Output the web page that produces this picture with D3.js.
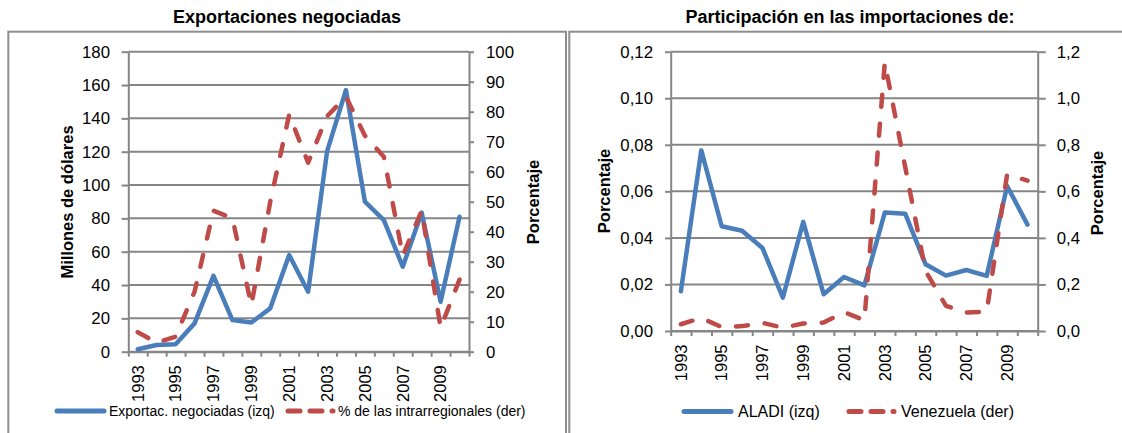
<!DOCTYPE html>
<html>
<head>
<meta charset="utf-8">
<script src="https://cdn.jsdelivr.net/npm/d3@7"></script>
<style>
  body { margin: 0; background: #fff; }
  svg { display: block; font-family: "Liberation Sans", Arial, sans-serif; }
</style>
</head>
<body>
<div id="chart"></div>
<script>
// datos
const years = ["1993","1994","1995","1996","1997","1998","1999","2000","2001",
               "2002","2003","2004","2005","2006","2007","2008","2009","2010"];
const yearLabels = ["1993","1995","1997","1999","2001","2003","2005","2007","2009"];

// panel izquierdo
const exportNeg = [1.5, 4, 4.5, 17, 45.5, 19, 17.5, 26, 58, 36, 120, 157, 90, 79, 51, 83.5, 30, 81];
const pctIntra  = [6.5, 3, 5, 20, 47, 44.5, 15.5, 50, 79, 63, 78.5, 85, 72, 65, 32, 47, 8, 24];
const ticksMill = [0, 20, 40, 60, 80, 100, 120, 140, 160, 180];
const ticksPct  = [0, 10, 20, 30, 40, 50, 60, 70, 80, 90, 100];

// panel derecho
const aladi     = [0.0171, 0.0776, 0.045, 0.0431, 0.0357, 0.0143, 0.0469, 0.0158, 0.0232,
                   0.0196, 0.0509, 0.0504, 0.0287, 0.0238, 0.0262, 0.0237, 0.0623, 0.0457];
const venezuela = [0.029, 0.056, 0.017, 0.021, 0.035, 0.014, 0.032, 0.036, 0.081,
                   0.046, 1.153, 0.705, 0.258, 0.108, 0.079, 0.084, 0.673, 0.646];
const ticksAladi = [0, 0.02, 0.04, 0.06, 0.08, 0.10, 0.12];
const ticksVen   = [0, 0.2, 0.4, 0.6, 0.8, 1.0, 1.2];

const W = 1122, H = 433;
const BLUE = "#4a7ebb", RED = "#be4b48", GRID = "#868686";

const svg = d3.select("#chart").append("svg")
    .attr("width", W)
    .attr("height", H);

const es = d3.formatLocale({decimal: ",", thousands: ".", grouping: [3], currency: ["", ""]});

function panel(c) {
  const g = svg.append("g");

  // marco
  g.append("rect")
      .attr("x", c.box[0]).attr("y", 31.7)
      .attr("width", c.box[1] - c.box[0]).attr("height", 450)
      .attr("fill", "none").attr("stroke", "#8e8e8e").attr("stroke-width", 2);

  g.append("text")
      .attr("x", c.titleX).attr("y", 23.3)
      .attr("text-anchor", "middle")
      .style("font-weight", "bold").style("font-size", "18px")
      .text(c.title);

  const x = d3.scaleBand().domain(years).range([c.left, c.right]);
  const xi = d3.scaleLinear().domain([0, years.length]).range([c.left, c.right]);
  const yL = d3.scaleLinear().domain(c.domL).range([c.bottom, c.top]);
  const yR = d3.scaleLinear().domain(c.domR).range([c.bottom, c.top]);

  // líneas de división
  g.append("g").selectAll("line")
    .data(c.ticksL)
    .join("line")
      .attr("x1", c.left).attr("x2", c.right)
      .attr("y1", d => yL(d)).attr("y2", d => yL(d))
      .attr("stroke", GRID).attr("stroke-width", 2);

  // eje izquierdo
  const axL = g.append("g")
      .attr("transform", `translate(${c.left},0)`)
      .call(d3.axisLeft(yL).tickValues(c.ticksL).tickSizeInner(c.tickL).tickSizeOuter(0)
              .tickPadding(c.padL).tickFormat(c.fmtL));
  // eje derecho
  const axR = g.append("g")
      .attr("transform", `translate(${c.right},0)`)
      .call(d3.axisRight(yR).tickValues(c.ticksR).tickSizeInner(c.tickR).tickSizeOuter(0)
              .tickPadding(c.padR).tickFormat(c.fmtR));
  // eje x: marcas entre categorías
  const axX = g.append("g")
      .attr("transform", `translate(0,${c.bottom})`)
      .call(d3.axisBottom(xi).tickValues(d3.range(years.length + 1)).tickSizeInner(5)
              .tickSizeOuter(0).tickFormat(""));

  [axL, axR, axX].forEach(a => {
    a.selectAll("path, line").attr("stroke", GRID).attr("stroke-width", 2);
    a.selectAll("text").attr("fill", "#000").style("font-size", "16.8px")
        .style("font-family", "'Liberation Sans', Arial, sans-serif");
  });

  // etiquetas de años
  g.append("g").selectAll("text")
    .data(yearLabels)
    .join("text")
      .attr("transform", d => `translate(${x(d) + x.bandwidth() / 2},${c.bottom + 13.5}) rotate(-90)`)
      .attr("text-anchor", "end")
      .attr("dy", "0.35em")
      .style("font-size", "16.5px")
      .text(d => d);

  // títulos de ejes
  c.axisTitles.forEach(t => {
    g.append("text")
        .attr("transform", `translate(${t.x},${t.y}) rotate(-90)`)
        .attr("text-anchor", "middle")
        .style("font-weight", "bold").style("font-size", "16.5px")
        .text(t.text);
  });

  const cx = d => x(d) + x.bandwidth() / 2;
  const lineL = d3.line().x((d, i) => cx(years[i])).y(d => yL(d));
  const lineR = d3.line().x((d, i) => cx(years[i])).y(d => yR(d));

  g.append("path")
      .attr("d", lineL(c.serL))
      .attr("fill", "none").attr("stroke", BLUE).attr("stroke-width", 4.5)
      .attr("stroke-linejoin", "round").attr("stroke-linecap", "round");
  g.append("path")
      .attr("d", lineR(c.serR))
      .attr("fill", "none").attr("stroke", RED).attr("stroke-width", 4.5)
      .attr("stroke-dasharray", "12,17")
      .attr("stroke-linejoin", "round").attr("stroke-linecap", "round");

  // leyenda
  const lg = g.append("g");
  c.legend.forEach((it, i) => {
    lg.append("line")
        .attr("x1", it.x0).attr("x2", it.x1)
        .attr("y1", c.legY).attr("y2", c.legY)
        .attr("stroke", i === 0 ? BLUE : RED).attr("stroke-width", 5)
        .attr("stroke-linecap", "round")
        .attr("stroke-dasharray", i === 0 ? null : "12,10");
    lg.append("text")
        .attr("x", it.tx).attr("y", c.legY)
        .attr("dy", "0.35em")
        .style("font-size", c.legFont)
        .text(it.text);
  });
}

panel({
  box: [8.3, 566], titleX: 287, title: "Exportaciones negociadas",
  left: 128.3, right: 469, top: 51.7, bottom: 351.7,
  domL: [0, 180], domR: [0, 100], ticksL: ticksMill, ticksR: ticksPct,
  fmtL: d3.format("d"), fmtR: d3.format("d"),
  tickL: 6.7, padL: 11.6, tickR: 5, padR: 12,
  serL: exportNeg, serR: pctIntra,
  axisTitles: [
    {text: "Millones de dólares", x: 73, y: 202},
    {text: "Porcentaje", x: 539, y: 202}
  ],
  legY: 411, legFont: "14px",
  legend: [
    {x0: 57, x1: 104, tx: 109, text: "Exportac. negociadas (izq)"},
    {x0: 288, x1: 333, tx: 338, text: "% de las intrarregionales (der)"}
  ]
});

panel({
  box: [569.3, 1131], titleX: 850, title: "Participación en las importaciones de:",
  left: 670.7, right: 1037.7, top: 51.7, bottom: 331,
  domL: [0, 0.12], domR: [0, 1.2], ticksL: ticksAladi, ticksR: ticksVen,
  fmtL: es.format(".2f"), fmtR: es.format(".1f"),
  tickL: 5.7, padL: 12, tickR: 8, padR: 11,
  serL: aladi, serR: venezuela,
  axisTitles: [
    {text: "Porcentaje", x: 610, y: 191},
    {text: "Porcentaje", x: 1103, y: 193}
  ],
  legY: 411.5, legFont: "16px",
  legend: [
    {x0: 684, x1: 731, tx: 738, text: "ALADI (izq)"},
    {x0: 849, x1: 894, tx: 901, text: "Venezuela (der)"}
  ]
});
</script>
</body>
</html>
